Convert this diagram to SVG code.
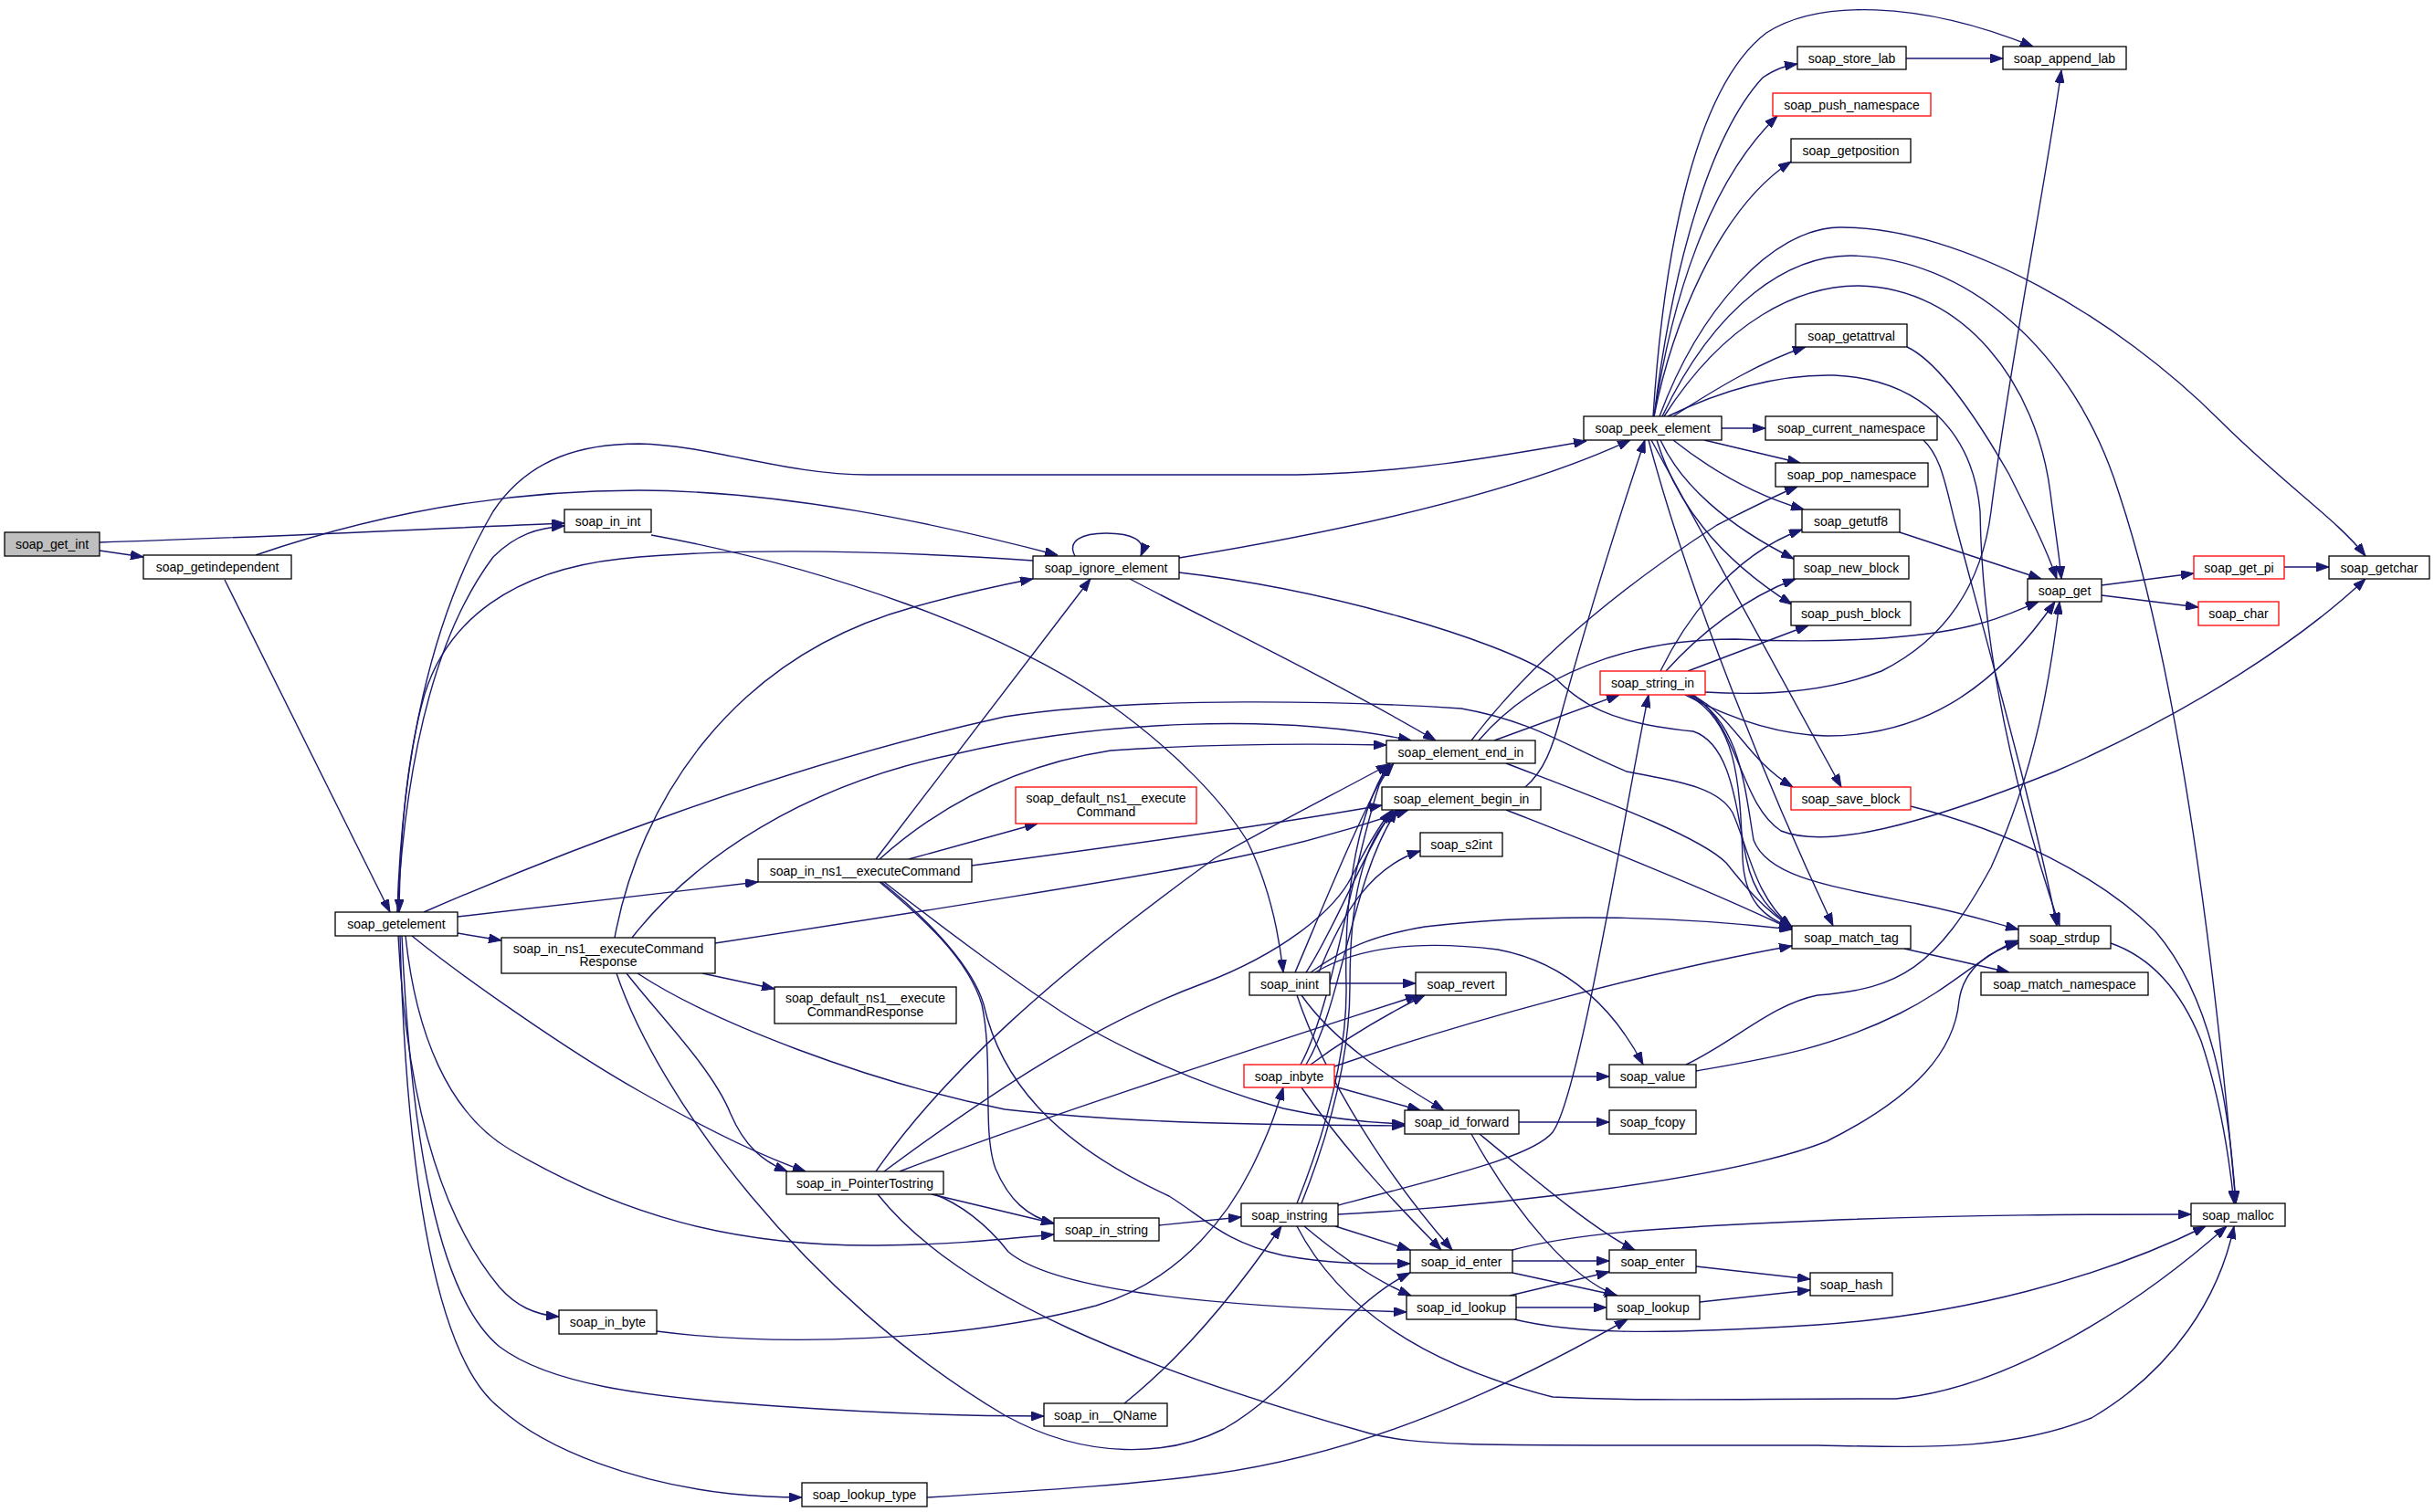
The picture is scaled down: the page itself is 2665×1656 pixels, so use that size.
<svg xmlns="http://www.w3.org/2000/svg" width="2665" height="1656" viewBox="0 0 2665 1656">
<style>
.n rect{fill:#fff;stroke:#000;stroke-width:1.3}
.n.root rect{fill:#bfbfbf}
.n.red rect{stroke:#ff0000}
.n text{font-family:"Liberation Sans",Arial,sans-serif;font-size:14px;text-anchor:middle;fill:#000}
#edges path{fill:none;stroke:#191970;stroke-width:1.4;marker-end:url(#a)}
</style>
<defs>
<marker id="a" markerUnits="userSpaceOnUse" markerWidth="14" markerHeight="10" refX="14" refY="5" orient="auto" viewBox="0 0 14 10">
<path d="M0,0 L14,5 L0,10 z" fill="#191970" stroke="#191970"/>
</marker>
</defs>
<rect width="2665" height="1656" fill="#fff"/>
<g id="edges">
<path d="M109,594 C300,588 450,580 618,573"/>
<path d="M109,603 L157,610"/>
<path d="M246,635 L427,999"/>
<path d="M280,608 C420,560 560,537 700,537 C860,538 1020,572 1158,608"/>
<path d="M713,586 C900,620 1100,690 1216,772 C1290,825 1340,880 1365,920 C1390,970 1400,1020 1405,1065"/>
<path d="M435,999 C440,830 470,680 540,560 C580,500 640,486 700,486 C780,488 860,520 950,520 L1420,520 C1540,518 1640,500 1737,483"/>
<path d="M435,999 C445,820 480,690 540,610 C565,585 590,578 618,576"/>
<path d="M1131,614 C1000,605 820,598 680,612 C560,625 490,680 465,760 C445,830 438,920 437,999"/>
<path d="M1177,609 C1168,592 1185,584 1211,584 C1240,584 1256,592 1249,609"/>
<path d="M1291,611 C1450,585 1650,545 1785,482"/>
<path d="M1237,634 C1330,683 1450,740 1572,811"/>
<path d="M1291,627 C1450,645 1640,700 1700,740 C1730,770 1760,792 1854,801 C1895,815 1900,880 1912,940 C1920,980 1940,1000 1962,1015"/>
<path d="M464,999 C600,940 850,840 1100,785 C1250,762 1480,768 1600,776 C1680,790 1720,820 1781,845 C1830,855 1880,860 1897,890 C1915,930 1920,980 1962,1016"/>
<path d="M673,1027 C700,880 800,720 1000,665 C1060,648 1100,640 1131,634"/>
<path d="M692,1027 C760,940 880,860 1045,826 C1200,790 1400,780 1545,811"/>
<path d="M783,1033 C1000,1000 1250,960 1330,944 C1420,926 1490,905 1542,887"/>
<path d="M769,1066 L848,1083"/>
<path d="M686,1066 C720,1110 780,1170 800,1220 C815,1255 835,1272 862,1283"/>
<path d="M698,1066 C780,1120 950,1185 1100,1215 C1250,1232 1420,1232 1538,1233"/>
<path d="M675,1066 C720,1200 880,1420 1100,1550 C1190,1600 1280,1595 1340,1565 C1420,1520 1470,1430 1544,1394"/>
<path d="M959,941 L1194,634"/>
<path d="M963,941 C1020,890 1100,840 1216,822 C1320,815 1420,814 1518,816"/>
<path d="M995,941 L1136,902"/>
<path d="M1064,948 C1200,930 1400,902 1513,882"/>
<path d="M963,966 C1010,1005 1060,1050 1075,1100 C1088,1160 1075,1240 1090,1280 C1105,1315 1125,1332 1154,1340"/>
<path d="M965,966 C1020,1010 1065,1060 1077,1100 C1095,1180 1150,1250 1280,1310 C1320,1335 1340,1360 1405,1375 C1460,1385 1500,1384 1544,1384"/>
<path d="M968,966 C1050,1030 1120,1080 1150,1100 C1200,1135 1300,1185 1405,1214 C1460,1226 1500,1230 1538,1231"/>
<path d="M501,1004 L830,966"/>
<path d="M501,1022 L549,1030"/>
<path d="M451,1025 C500,1065 620,1150 700,1195 C770,1235 830,1265 882,1283"/>
<path d="M444,1025 C455,1130 490,1220 560,1260 C680,1330 800,1365 960,1364 C1050,1363 1100,1357 1154,1352"/>
<path d="M436,1025 C445,1200 480,1330 547,1410 C565,1430 585,1440 612,1442"/>
<path d="M440,1025 C450,1250 480,1420 547,1475 C600,1515 700,1530 850,1540 C950,1547 1050,1551 1143,1551"/>
<path d="M438,1025 C445,1300 480,1490 547,1542 C600,1590 700,1625 800,1636 C830,1639 855,1640 878,1640"/>
<path d="M959,1283 C1030,1180 1150,1070 1330,940 C1400,900 1470,865 1521,837"/>
<path d="M968,1283 C1080,1200 1200,1120 1320,1076 C1400,1045 1460,1000 1480,960 C1495,930 1510,905 1523,888"/>
<path d="M985,1283 C1150,1220 1400,1140 1553,1090"/>
<path d="M1020,1308 L1154,1340"/>
<path d="M1023,1308 C1050,1318 1080,1340 1104,1371 C1150,1410 1300,1430 1540,1437"/>
<path d="M961,1308 C1050,1420 1250,1500 1500,1570 C1560,1585 1620,1583 1990,1583 C2100,1585 2200,1590 2290,1553 C2380,1500 2430,1420 2446,1343"/>
<path d="M1269,1342 L1359,1333"/>
<path d="M1231,1537 C1290,1490 1350,1420 1403,1343"/>
<path d="M719,1458 C850,1475 1050,1470 1200,1430 C1300,1400 1350,1320 1370,1280 C1390,1240 1398,1215 1405,1191"/>
<path d="M1015,1640 C1150,1632 1250,1625 1330,1614 C1500,1590 1650,1520 1782,1445"/>
<path d="M1418,1065 C1450,990 1490,890 1522,836"/>
<path d="M1430,1065 C1460,1020 1490,940 1525,887"/>
<path d="M1444,1065 C1470,1000 1500,950 1555,932"/>
<path d="M1456,1077 L1550,1077"/>
<path d="M1435,1065 C1470,1040 1500,1025 1560,1015 C1700,998 1850,1005 1962,1018"/>
<path d="M1440,1065 C1490,1035 1560,1030 1640,1040 C1720,1055 1770,1110 1799,1166"/>
<path d="M1425,1090 C1460,1140 1520,1180 1581,1216"/>
<path d="M1420,1090 C1450,1180 1520,1290 1590,1369"/>
<path d="M1424,1166 C1460,1100 1480,950 1510,860 C1515,850 1518,845 1526,836"/>
<path d="M1430,1166 C1470,1100 1480,960 1530,887"/>
<path d="M1435,1166 C1470,1140 1510,1115 1560,1090"/>
<path d="M1461,1168 C1600,1120 1800,1065 1962,1036"/>
<path d="M1461,1179 L1762,1179"/>
<path d="M1461,1190 L1555,1216"/>
<path d="M1425,1191 C1480,1270 1540,1330 1578,1369"/>
<path d="M1420,1318 C1455,1230 1475,1150 1474,1080 C1472,1000 1480,900 1521,836"/>
<path d="M1425,1318 C1460,1230 1478,1150 1478,1080 C1478,990 1490,920 1530,887"/>
<path d="M1465,1320 C1600,1285 1680,1265 1700,1240 C1730,1200 1780,880 1805,761"/>
<path d="M1465,1330 C1650,1320 1900,1290 2000,1250 C2100,1200 2140,1150 2145,1096 C2150,1060 2180,1040 2210,1033"/>
<path d="M1462,1343 L1544,1369"/>
<path d="M1428,1343 C1460,1370 1500,1400 1545,1419"/>
<path d="M1420,1343 C1460,1420 1540,1490 1700,1530 C1800,1535 1900,1532 2076,1532 C2200,1520 2340,1430 2438,1343"/>
<path d="M1846,1166 C1900,1140 1940,1100 1990,1090 C2080,1083 2120,1060 2180,950 C2230,840 2245,740 2255,659"/>
<path d="M1857,1173 C1930,1160 2000,1150 2080,1110 C2140,1080 2170,1045 2210,1030"/>
<path d="M1663,1229 L1762,1229"/>
<path d="M1620,1242 C1690,1300 1750,1350 1790,1369"/>
<path d="M1611,1242 C1660,1330 1720,1400 1770,1419"/>
<path d="M1656,1381 L1762,1381"/>
<path d="M1656,1394 L1771,1419"/>
<path d="M1656,1369 C1720,1352 1800,1345 1990,1337 C2150,1330 2300,1330 2399,1330"/>
<path d="M1653,1419 L1762,1393"/>
<path d="M1660,1432 L1759,1432"/>
<path d="M1658,1445 C1720,1460 1800,1463 1990,1451 C2150,1440 2300,1400 2415,1343"/>
<path d="M1857,1387 L1982,1401"/>
<path d="M1861,1426 L1982,1413"/>
<path d="M1885,469 L1933,469"/>
<path d="M1866,482 L1971,507"/>
<path d="M1832,482 C1880,520 1930,545 1975,558"/>
<path d="M1818,482 C1840,530 1890,575 1964,612"/>
<path d="M1814,482 C1835,550 1880,610 1962,662"/>
<path d="M1808,482 L2016,862"/>
<path d="M1805,482 C1850,650 1930,850 2007,1014"/>
<path d="M1811,456 C1830,300 1870,150 1930,85 C1945,75 1955,72 1968,70"/>
<path d="M1811,456 C1830,330 1870,200 1946,127"/>
<path d="M1811,456 C1830,360 1880,230 1961,177"/>
<path d="M1810,456 C1820,300 1850,100 1934,36 C1990,0 2100,0 2226,51"/>
<path d="M1832,456 C1880,425 1930,395 1977,380"/>
<path d="M1817,456 C1860,340 1940,250 2014,249 C2150,248 2320,350 2430,460 C2500,530 2560,570 2590,609"/>
<path d="M1820,456 C1880,330 1960,280 2026,280 C2150,282 2270,380 2320,540 C2380,720 2420,1000 2448,1318"/>
<path d="M1822,456 C1890,350 1970,313 2035,313 C2150,315 2230,420 2245,540 C2250,580 2255,610 2257,634"/>
<path d="M1826,456 C1900,420 1960,410 2008,411 C2100,415 2160,470 2168,560 C2170,700 2200,850 2255,1014"/>
<path d="M2106,482 C2125,500 2130,530 2140,570 C2180,720 2230,900 2252,1014"/>
<path d="M2088,380 C2120,395 2160,450 2200,520 C2225,570 2240,600 2252,634"/>
<path d="M2080,583 L2235,634"/>
<path d="M2301,641 L2402,628"/>
<path d="M2301,652 L2407,665"/>
<path d="M2501,621 L2550,621"/>
<path d="M2087,64 L2193,64"/>
<path d="M2085,1039 L2200,1065"/>
<path d="M2311,1033 C2360,1050 2390,1090 2410,1140 C2430,1200 2440,1260 2446,1318"/>
<path d="M2092,883 C2200,910 2300,960 2360,1020 C2420,1090 2440,1200 2448,1318"/>
<path d="M1867,758 C1930,762 2000,758 2060,735 C2130,700 2170,640 2180,560 C2200,400 2240,200 2257,77"/>
<path d="M1845,761 C1900,790 1950,805 2000,806 C2100,806 2180,760 2250,659"/>
<path d="M1818,735 C1840,690 1890,610 1973,580"/>
<path d="M1824,735 C1860,695 1910,655 1966,634"/>
<path d="M1848,735 L1980,685"/>
<path d="M1852,761 C1900,785 1910,830 1963,862"/>
<path d="M1854,761 C1905,797 1905,880 1950,910 C2000,930 2100,905 2250,845 C2400,780 2520,700 2590,634"/>
<path d="M1850,761 C1905,790 1910,860 1920,920 C1935,960 2000,970 2100,990 C2150,1000 2180,1010 2210,1018"/>
<path d="M1848,761 C1900,790 1905,850 1908,940 C1910,985 1930,1005 1962,1016"/>
<path d="M1611,811 C1680,720 1780,640 1880,575 C1920,555 1945,542 1968,533"/>
<path d="M1619,811 C1680,740 1780,700 1900,700 C2000,705 2100,700 2160,685 C2190,678 2210,668 2232,659"/>
<path d="M1636,811 L1773,761"/>
<path d="M1649,836 C1750,875 1860,915 1890,945 C1910,970 1930,995 1962,1016"/>
<path d="M1670,862 C1690,845 1700,820 1710,780 C1740,670 1775,560 1801,482"/>
<path d="M1649,887 C1720,915 1850,965 1962,1018"/>
</g>
<g id="soap_get_int" class="n root"><rect x="5" y="583" width="104" height="26"/><text x="57" y="601">soap_get_int</text></g>
<g id="soap_getindependent" class="n"><rect x="157" y="608" width="162" height="26"/><text x="238" y="626">soap_getindependent</text></g>
<g id="soap_in_int" class="n"><rect x="618" y="558" width="95" height="25"/><text x="665.5" y="575.5">soap_in_int</text></g>
<g id="soap_getelement" class="n"><rect x="367" y="999" width="134" height="26"/><text x="434" y="1017">soap_getelement</text></g>
<g id="soap_in_ns1__executeCommandResponse" class="n"><rect x="549" y="1027" width="234" height="39"/><text x="666" y="1043.5">soap_in_ns1__executeCommand</text><text x="666" y="1058">Response</text></g>
<g id="soap_ignore_element" class="n"><rect x="1131" y="609" width="160" height="25"/><text x="1211" y="626.5">soap_ignore_element</text></g>
<g id="soap_default_ns1__executeCommand" class="n red"><rect x="1112" y="862" width="198" height="40"/><text x="1211" y="879">soap_default_ns1__execute</text><text x="1211" y="893.5">Command</text></g>
<g id="soap_in_ns1__executeCommand" class="n"><rect x="830" y="941" width="234" height="25"/><text x="947" y="958.5">soap_in_ns1__executeCommand</text></g>
<g id="soap_default_ns1__executeCommandResponse" class="n"><rect x="848" y="1081" width="199" height="40"/><text x="947.5" y="1098">soap_default_ns1__execute</text><text x="947.5" y="1112.5">CommandResponse</text></g>
<g id="soap_element_end_in" class="n"><rect x="1518" y="811" width="163" height="25"/><text x="1599.5" y="828.5">soap_element_end_in</text></g>
<g id="soap_element_begin_in" class="n"><rect x="1513" y="862" width="174" height="25"/><text x="1600" y="879.5">soap_element_begin_in</text></g>
<g id="soap_s2int" class="n"><rect x="1555" y="912" width="90" height="26"/><text x="1600" y="930">soap_s2int</text></g>
<g id="soap_string_in" class="n red"><rect x="1752" y="735" width="115" height="26"/><text x="1809.5" y="753">soap_string_in</text></g>
<g id="soap_inint" class="n"><rect x="1368" y="1065" width="88" height="25"/><text x="1412" y="1082.5">soap_inint</text></g>
<g id="soap_revert" class="n"><rect x="1550" y="1065" width="99" height="25"/><text x="1599.5" y="1082.5">soap_revert</text></g>
<g id="soap_match_tag" class="n"><rect x="1962" y="1014" width="130" height="25"/><text x="2027" y="1031.5">soap_match_tag</text></g>
<g id="soap_save_block" class="n red"><rect x="1961" y="862" width="131" height="25"/><text x="2026.5" y="879.5">soap_save_block</text></g>
<g id="soap_getutf8" class="n"><rect x="1973" y="558" width="107" height="25"/><text x="2026.5" y="575.5">soap_getutf8</text></g>
<g id="soap_new_block" class="n"><rect x="1964" y="609" width="126" height="25"/><text x="2027" y="626.5">soap_new_block</text></g>
<g id="soap_push_block" class="n"><rect x="1961" y="659" width="131" height="26"/><text x="2026.5" y="677">soap_push_block</text></g>
<g id="soap_get" class="n"><rect x="2220" y="634" width="81" height="25"/><text x="2260.5" y="651.5">soap_get</text></g>
<g id="soap_get_pi" class="n red"><rect x="2402" y="609" width="99" height="25"/><text x="2451.5" y="626.5">soap_get_pi</text></g>
<g id="soap_char" class="n red"><rect x="2407" y="659" width="88" height="26"/><text x="2451" y="677">soap_char</text></g>
<g id="soap_getchar" class="n"><rect x="2550" y="609" width="110" height="25"/><text x="2605" y="626.5">soap_getchar</text></g>
<g id="soap_strdup" class="n"><rect x="2210" y="1014" width="101" height="25"/><text x="2260.5" y="1031.5">soap_strdup</text></g>
<g id="soap_match_namespace" class="n"><rect x="2169" y="1065" width="183" height="25"/><text x="2260.5" y="1082.5">soap_match_namespace</text></g>
<g id="soap_store_lab" class="n"><rect x="1968" y="51" width="119" height="25"/><text x="2027.5" y="68.5">soap_store_lab</text></g>
<g id="soap_append_lab" class="n"><rect x="2193" y="51" width="135" height="25"/><text x="2260.5" y="68.5">soap_append_lab</text></g>
<g id="soap_push_namespace" class="n red"><rect x="1941" y="102" width="173" height="25"/><text x="2027.5" y="119.5">soap_push_namespace</text></g>
<g id="soap_getposition" class="n"><rect x="1961" y="152" width="131" height="26"/><text x="2026.5" y="170">soap_getposition</text></g>
<g id="soap_getattrval" class="n"><rect x="1966" y="355" width="122" height="25"/><text x="2027" y="372.5">soap_getattrval</text></g>
<g id="soap_peek_element" class="n"><rect x="1734" y="456" width="151" height="26"/><text x="1809.5" y="474">soap_peek_element</text></g>
<g id="soap_current_namespace" class="n"><rect x="1933" y="456" width="188" height="26"/><text x="2027" y="474">soap_current_namespace</text></g>
<g id="soap_pop_namespace" class="n"><rect x="1944" y="507" width="167" height="26"/><text x="2027.5" y="525">soap_pop_namespace</text></g>
<g id="soap_inbyte" class="n red"><rect x="1362" y="1166" width="99" height="25"/><text x="1411.5" y="1183.5">soap_inbyte</text></g>
<g id="soap_value" class="n"><rect x="1762" y="1166" width="95" height="25"/><text x="1809.5" y="1183.5">soap_value</text></g>
<g id="soap_id_forward" class="n"><rect x="1538" y="1216" width="125" height="26"/><text x="1600.5" y="1234">soap_id_forward</text></g>
<g id="soap_fcopy" class="n"><rect x="1762" y="1216" width="95" height="26"/><text x="1809.5" y="1234">soap_fcopy</text></g>
<g id="soap_instring" class="n"><rect x="1359" y="1318" width="106" height="25"/><text x="1412" y="1335.5">soap_instring</text></g>
<g id="soap_id_enter" class="n"><rect x="1544" y="1369" width="112" height="25"/><text x="1600" y="1386.5">soap_id_enter</text></g>
<g id="soap_enter" class="n"><rect x="1762" y="1369" width="95" height="25"/><text x="1809.5" y="1386.5">soap_enter</text></g>
<g id="soap_id_lookup" class="n"><rect x="1540" y="1419" width="120" height="26"/><text x="1600" y="1437">soap_id_lookup</text></g>
<g id="soap_lookup" class="n"><rect x="1759" y="1419" width="102" height="26"/><text x="1810" y="1437">soap_lookup</text></g>
<g id="soap_hash" class="n"><rect x="1982" y="1394" width="90" height="25"/><text x="2027" y="1411.5">soap_hash</text></g>
<g id="soap_malloc" class="n"><rect x="2399" y="1318" width="103" height="25"/><text x="2450.5" y="1335.5">soap_malloc</text></g>
<g id="soap_in_PointerTostring" class="n"><rect x="861" y="1283" width="172" height="25"/><text x="947" y="1300.5">soap_in_PointerTostring</text></g>
<g id="soap_in_string" class="n"><rect x="1154" y="1334" width="115" height="25"/><text x="1211.5" y="1351.5">soap_in_string</text></g>
<g id="soap_in_byte" class="n"><rect x="612" y="1435" width="107" height="26"/><text x="665.5" y="1453">soap_in_byte</text></g>
<g id="soap_in__QName" class="n"><rect x="1143" y="1537" width="135" height="25"/><text x="1210.5" y="1554.5">soap_in__QName</text></g>
<g id="soap_lookup_type" class="n"><rect x="878" y="1624" width="137" height="26"/><text x="946.5" y="1642">soap_lookup_type</text></g>
</svg>
